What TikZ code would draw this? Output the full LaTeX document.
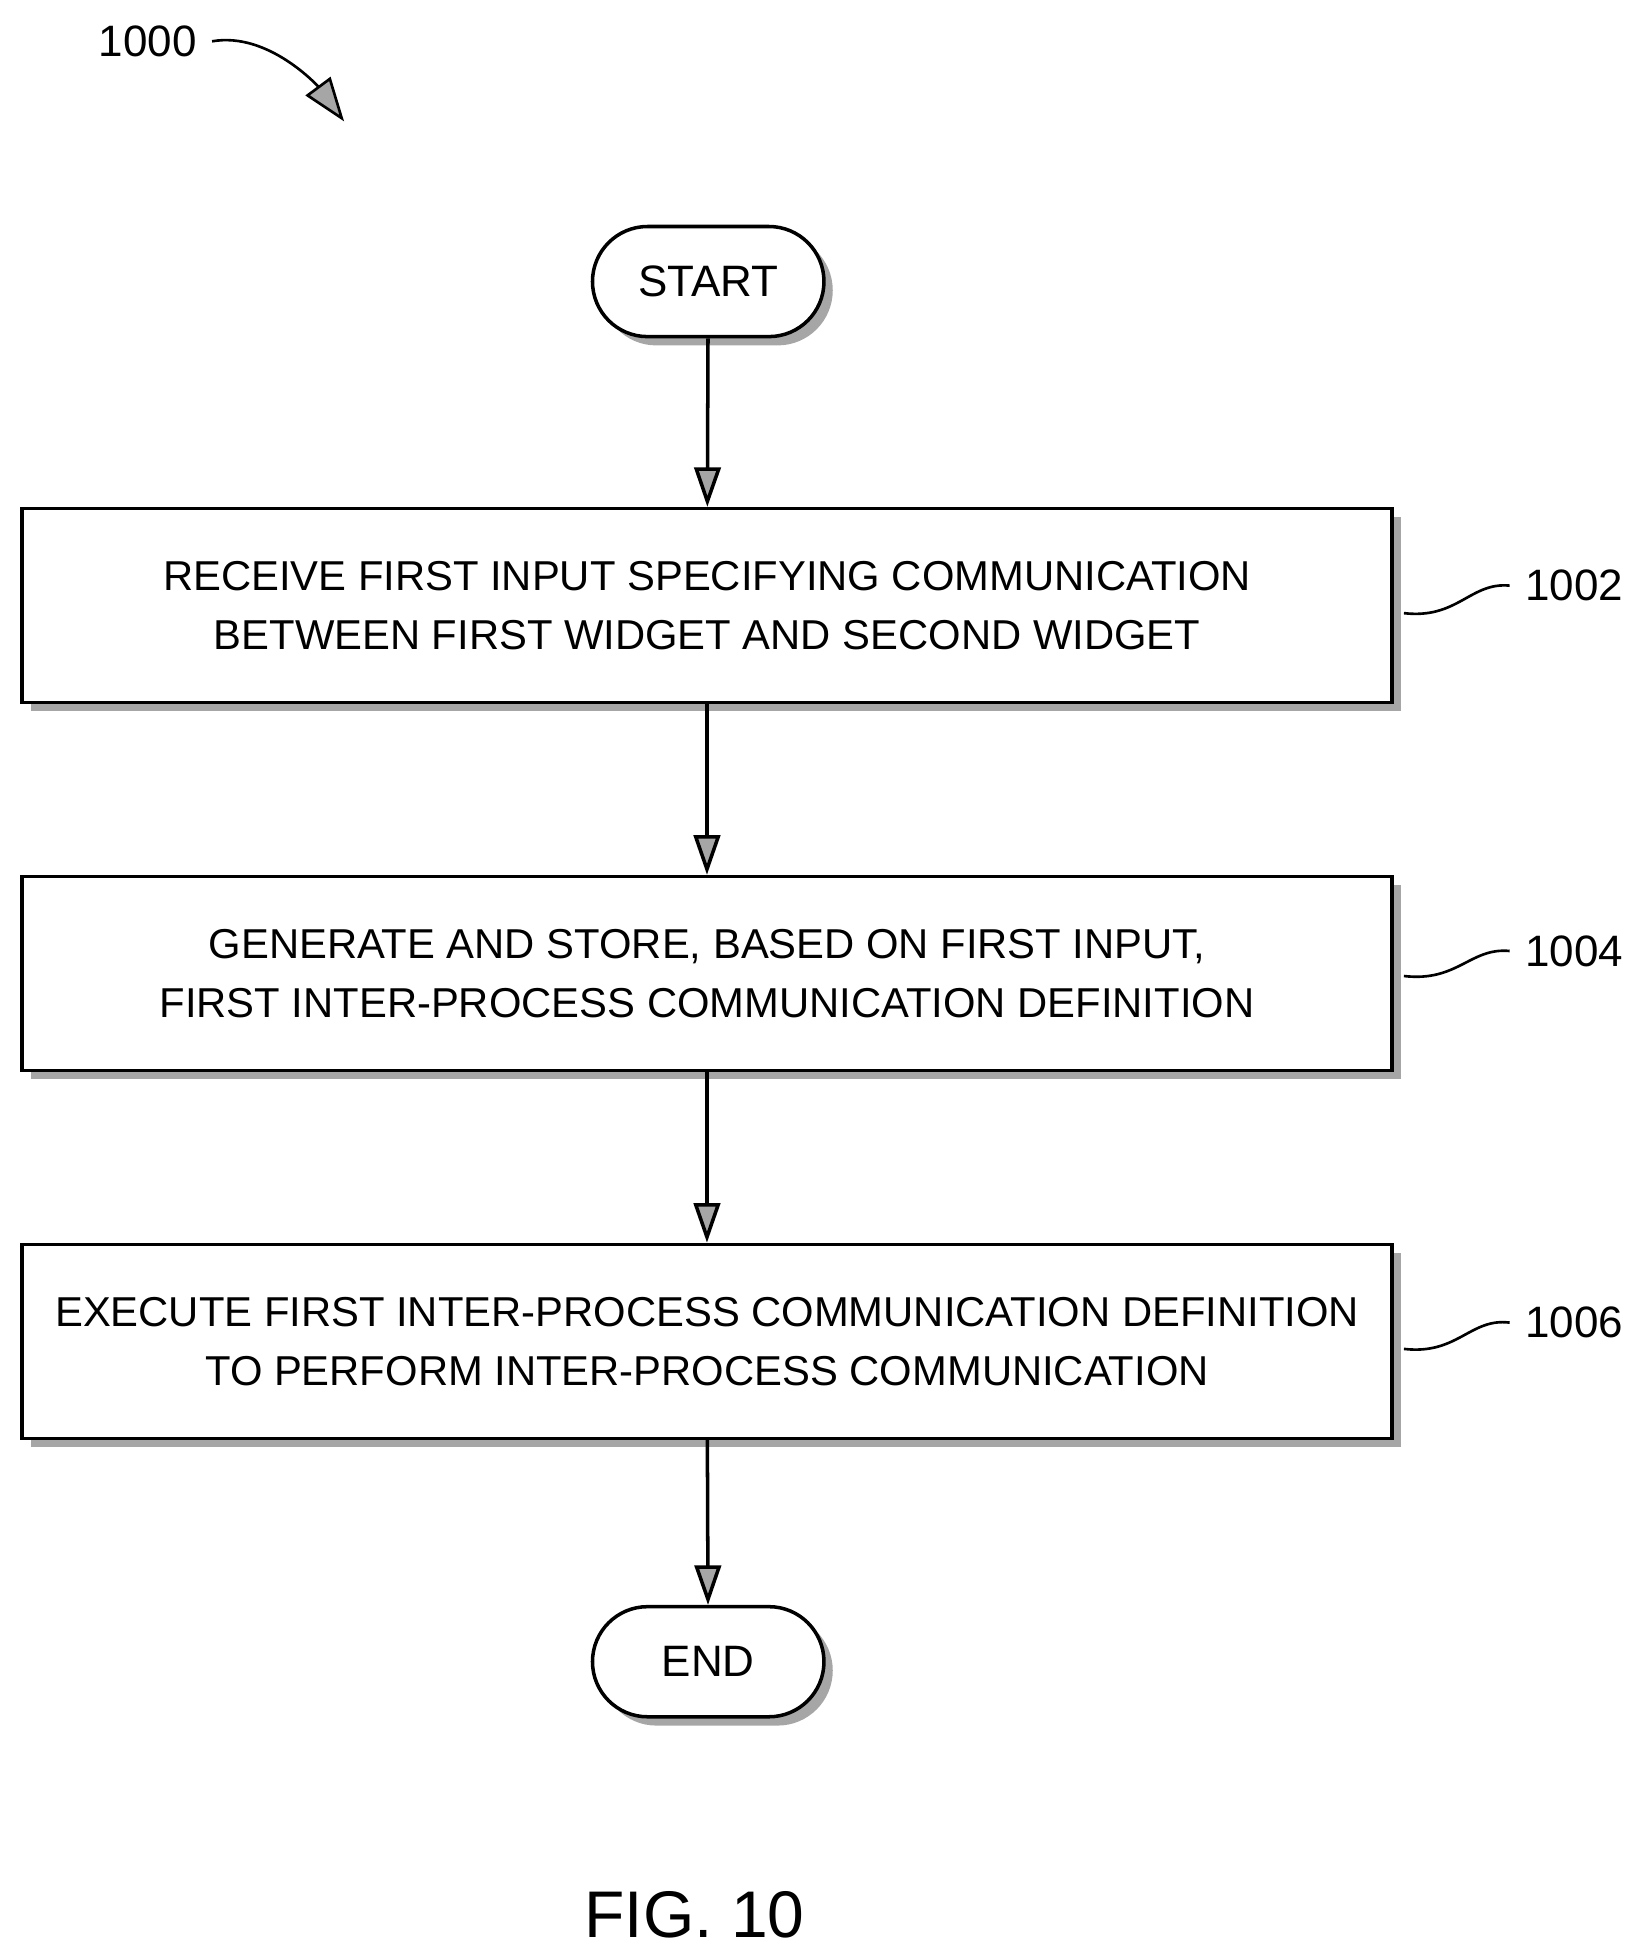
\documentclass[tikz,border=0pt]{standalone}
\usepackage{fontspec}
\setmainfont{Liberation Sans}
\usetikzlibrary{positioning,shadows,arrows.meta}
\tikzset{
  procbox/.style={draw=black,line width=0.8pt,fill=white,minimum width=10.95cm,minimum height=1.55cm,
    align=center,font=\fontsize{9.5pt}{13.5pt}\selectfont,
    drop shadow={shadow xshift=2pt,shadow yshift=-2pt,fill=gray!70,opacity=1}},
  term/.style={draw=black,line width=0.8pt,fill=white,rounded corners=0.44cm,minimum width=1.85cm,
    minimum height=0.88cm,font=\fontsize{10pt}{12pt}\selectfont,
    drop shadow={shadow xshift=2pt,shadow yshift=-2pt,fill=gray!70,opacity=1}},
  flow/.style={line width=0.8pt,-{Triangle[width=6pt,length=9pt,fill=gray!70]}},
  ref/.style={font=\fontsize{10pt}{12pt}\selectfont}
}
\begin{document}
\begin{tikzpicture}[x=0.1mm,y=-0.1mm]
\useasboundingbox (0,0) rectangle (1300,1556);
%Start und Ende
\node[term] (start) at (566,225) {START};
\node[term] (end) at (566,1328) {END};
%Schritte
\node[procbox] (s1) at (565,484) {RECEIVE FIRST INPUT SPECIFYING COMMUNICATION\\BETWEEN FIRST WIDGET AND SECOND WIDGET};
\node[procbox] (s2) at (565,778) {GENERATE AND STORE, BASED ON FIRST INPUT,\\FIRST INTER-PROCESS COMMUNICATION DEFINITION};
\node[procbox] (s3) at (565,1072) {EXECUTE FIRST INTER-PROCESS COMMUNICATION DEFINITION\\TO PERFORM INTER-PROCESS COMMUNICATION};
%Pfeile
\draw[flow] (start) -- (s1);
\draw[flow] (s1) -- (s2);
\draw[flow] (s2) -- (s3);
\draw[flow] (s3) -- (end);
%Bezugszeichen
\node[ref] (r1) at (1258,468) {1002};
\node[ref] (r2) at (1258,760) {1004};
\node[ref] (r3) at (1258,1057) {1006};
\coordinate (c1) at (1122,490);
\coordinate (c2) at (1122,780);
\coordinate (c3) at (1122,1078);
\draw[line width=0.6pt] (c1) .. controls (1165,495) and (1175,465) .. (r1.west);
\draw[line width=0.6pt] (c2) .. controls (1165,785) and (1175,757) .. (r2.west);
\draw[line width=0.6pt] (c3) .. controls (1165,1083) and (1175,1053) .. (r3.west);
\node[ref] (fig) at (118,33) {1000};
\coordinate (tip) at (275,97);
\draw[line width=0.6pt,-{Triangle[width=7pt,length=10pt,fill=gray!70]}] (fig.east) .. controls (215,25) and (255,70) .. (tip);
\node[font=\fontsize{15pt}{18pt}\selectfont] (cap) at (555,1530) {FIG. 10};
\end{tikzpicture}
\end{document}
